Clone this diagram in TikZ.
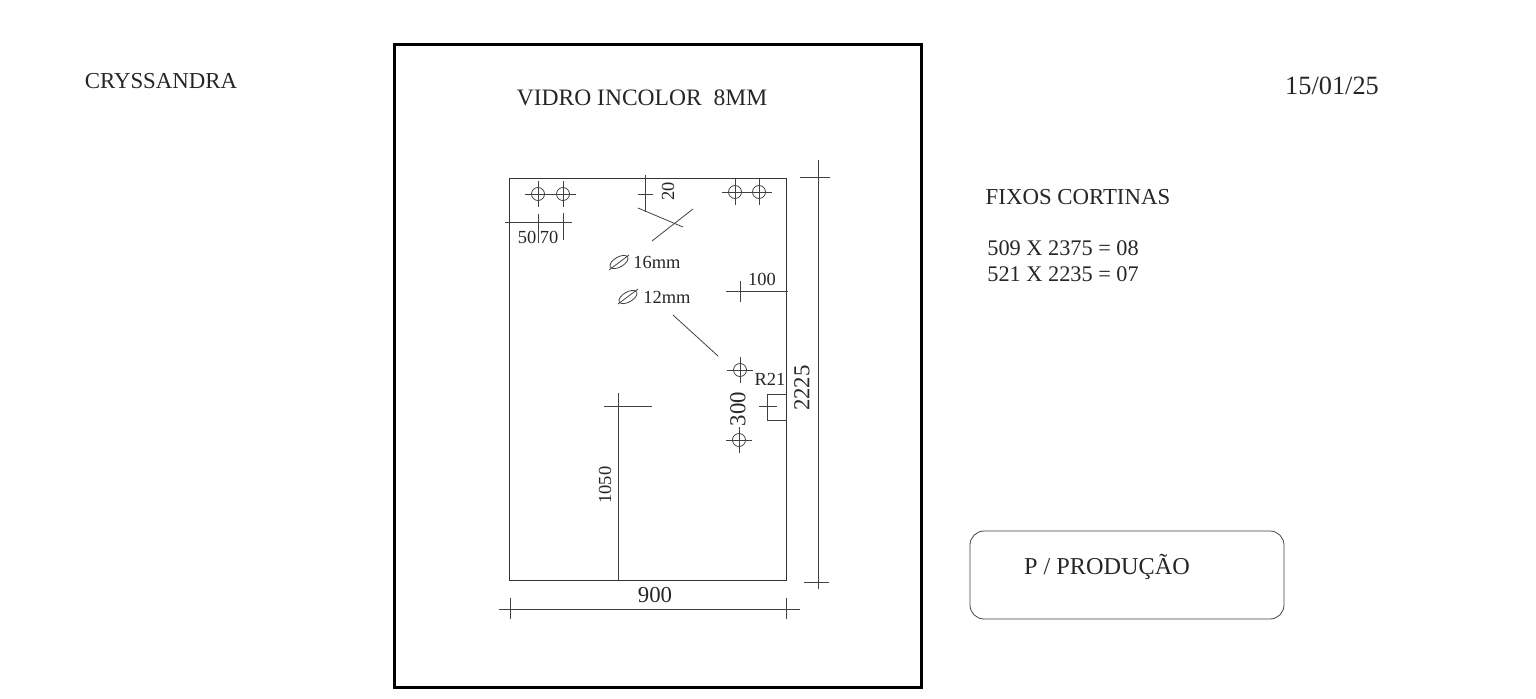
\documentclass[tikz,border=0pt]{standalone}
\usepackage{fontspec}
\setmainfont{Liberation Serif}
\tikzset{
  dimline/.style={line width=0.45pt,draw=black!75},
  glass/.style={line width=0.55pt,draw=black!80},
  sheet/.style={font=\fontsize{13}{15}\selectfont,text=black!85,inner sep=0pt},
  measure/.style={font=\fontsize{13}{15}\selectfont,text=black!85,inner sep=0pt},
  small/.style={font=\fontsize{10.5}{12}\selectfont,text=black!85,inner sep=0pt},
}
\newcommand{\hole}[2]{%
  \draw[dimline] (#1,#2) circle (6.5);
  \draw[dimline] (#1-13,#2) -- (#1+13,#2);
  \draw[dimline] (#1,#2-13) -- (#1,#2+13);
}
\begin{document}
\begin{tikzpicture}[x=0.02cm,y=-0.02cm]
\useasboundingbox (0,0) rectangle (1536,698);
\draw[line width=1.9pt] (394.5,44.5) rectangle (921.5,687.5);
%Header
\node[sheet] (client) at (161,81) {CRYSSANDRA};
\node[sheet,font=\fontsize{15}{17}\selectfont] (date) at (1332,86) {15/01/25};
\node[sheet,font=\fontsize{13.4}{15}\selectfont] (glasstype) at (642,98) {VIDRO INCOLOR\ \ 8MM};
%Panel
\draw[glass] (509,178) rectangle (786,580);
\foreach \hx/\hy in {538/194,563/194,735/192,759/192,740/370,739/440}
  \hole{\hx}{\hy}
%Top dimensions
\draw[dimline] (505,222) -- (572,222);
\draw[dimline] (538,214) -- (538,243);
\draw[dimline] (563,213) -- (563,240);
\node[small] (dimfifty) at (527,237) {50};
\node[small] (dimseventy) at (549,237) {70};
\draw[dimline] (645,175) -- (645,212);
\draw[dimline] (638,194) -- (653,194);
\node[small,rotate=90] (dimtwenty) at (668,191) {20};
\draw[dimline] (638,208) -- (683,227);
\draw[dimline] (693,209) -- (652,241);
%Drill diameters
\draw[dimline] (619,262) ellipse [x radius=10,y radius=5,rotate=30];
\draw[dimline] (609,270) -- (629,255);
\node[small] (drillsixteen) at (657,262) {16mm};
\draw[dimline] (628,297) ellipse [x radius=10,y radius=5,rotate=30];
\draw[dimline] (618,304) -- (638,289);
\node[small] (drilltwelve) at (667,297) {12mm};
\draw[dimline] (673,315) -- (718,356);
%Side dimensions
\draw[dimline] (726,291) -- (788,291);
\draw[dimline] (740,281) -- (740,302);
\node[small] (dimhundred) at (762,279) {100};
\node[small] (radius) at (770,379) {R21};
\draw[dimline] (787,394) -- (767,394) -- (767,420) -- (787,420);
\draw[dimline] (759,406) -- (777,406);
\node[measure,rotate=90] (dimthreehundred) at (738,409) {300};
\draw[dimline] (818,160) -- (818,589);
\draw[dimline] (800,177) -- (830,177);
\draw[dimline] (804,582) -- (829,582);
\node[measure,rotate=90] (dimheight) at (802,388) {2225};
%Lower dimensions
\draw[dimline] (618,393) -- (618,580);
\draw[dimline] (604,406) -- (652,406);
\node[small,rotate=90] (dimholeheight) at (605,485) {1050};
\draw[dimline] (499,609) -- (800,609);
\draw[dimline] (510,598) -- (510,619);
\draw[dimline] (786,598) -- (786,619);
\node[measure] (dimwidth) at (655,595) {900};
%Notes
\node[sheet] (fixos) at (1078,197) {FIXOS CORTINAS};
\node[sheet,font=\fontsize{12.7}{15}\selectfont,anchor=west] (rowone) at (987,248) {509 X 2375 = 08};
\node[sheet,font=\fontsize{12.7}{15}\selectfont,anchor=west] (rowtwo) at (987,274) {521 X 2235 = 07};
\draw[dimline,rounded corners=8] (970,531) rectangle (1284,619);
\node[sheet,font=\fontsize{13.8}{16}\selectfont] (stamp) at (1107,567) {P / PRODUÇÃO};
\end{tikzpicture}
\end{document}
